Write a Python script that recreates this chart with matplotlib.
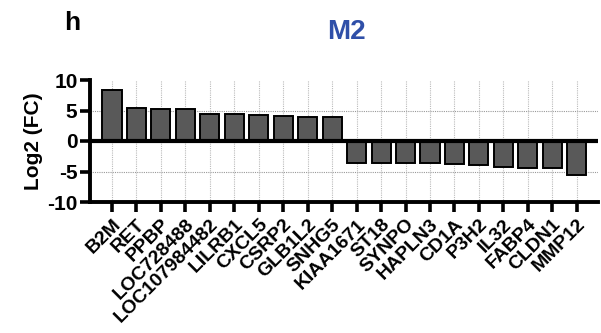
import matplotlib
matplotlib.use("Agg")
import matplotlib.pyplot as plt

plt.rcParams['font.family'] = ['Liberation Sans', 'DejaVu Sans']
plt.rcParams['font.weight'] = 'bold'
plt.rcParams['axes.unicode_minus'] = False

genes = ["B2M", "RET", "PPBP", "LOC728488", "LOC107984482", "LILRB1", "CXCL5",
         "CSRP2", "GLB1L2", "SNHG5", "KIAA1671", "ST18", "SYNPO", "HAPLN3",
         "CD1A", "P3H2", "IL32", "FABP4", "CLDN1", "MMP12"]
log2fc = [8.4, 5.4, 5.25, 5.2, 4.5, 4.5, 4.2, 4.15, 4.0, 4.0,
          -3.55, -3.55, -3.65, -3.65, -3.75, -3.9, -4.2, -4.5, -4.5, -5.6]
yticks = [-10, -5, 0, 5, 10]

fig = plt.figure(figsize=(6.01, 3.33), dpi=100)
ax = fig.add_axes([90/601, 1-202/333, (598-90)/601, (202-80)/333])

x = list(range(len(genes)))
ax.bar(x, log2fc, width=0.78, color="#595959", edgecolor="black", linewidth=1.4, zorder=3)

ax.set_xlim(-0.9, len(genes) - 1 + 0.87)
ax.set_ylim(-10, 10)
ax.set_yticks(yticks)
ax.set_xticks(x)
ax.set_xticklabels(genes, rotation=45, ha='right', rotation_mode='anchor',
                   fontsize=14, fontweight='bold')
ax.tick_params(axis='y', labelsize=15, width=2.6, length=7, pad=2)
ax.tick_params(axis='x', width=2.6, length=7, pad=3)
for lab in ax.get_yticklabels():
    lab.set_fontweight('bold')

for s in ['top', 'right']:
    ax.spines[s].set_visible(False)
for s in ['left', 'bottom']:
    ax.spines[s].set_linewidth(2.8)

ax.axhline(0, color='black', linewidth=3.0, zorder=4)
for v in [5, -5]:
    ax.axhline(v, color='#999999', linewidth=0.8, linestyle=(0, (1, 1)), zorder=1)
for xi in x:
    ax.axvline(xi, color='#bbbbbb', linewidth=0.8, linestyle=(0, (1, 1)), zorder=1)

ax.set_ylabel("Log2 (FC)", fontsize=15, fontweight='bold', labelpad=3)

fig.text(346/601, 1-32/333, "M2", color="#2f4fa8", fontsize=20, fontweight='bold',
         ha='center', va='center')
fig.text(64/601, 1-23/333, "h", color="black", fontsize=19, fontweight='bold',
         ha='left', va='center')

fig.savefig("out.png", dpi=100)
